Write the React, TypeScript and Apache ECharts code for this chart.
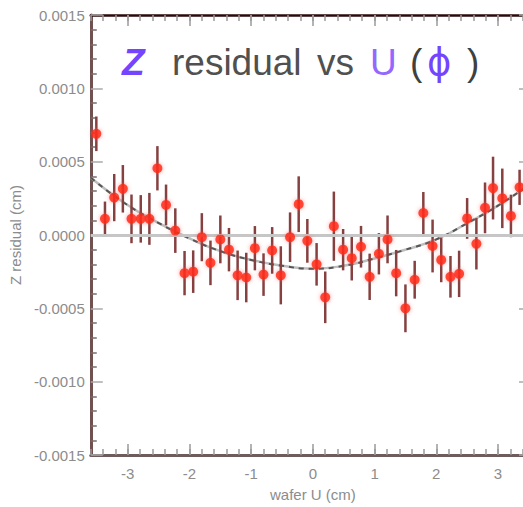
import React, { useEffect, useRef } from "react";
import * as echarts from "echarts";

// wafer U position (cm)
const U_POS = [
  -3.51, -3.37, -3.22, -3.08, -2.94, -2.79, -2.65, -2.52, -2.38, -2.23,
  -2.08, -1.94, -1.8, -1.66, -1.5, -1.36, -1.22, -1.08, -0.94, -0.8,
  -0.66, -0.52, -0.37, -0.23, -0.09, 0.06, 0.2, 0.34, 0.49, 0.63,
  0.78, 0.92, 1.07, 1.21, 1.35, 1.5, 1.65, 1.79, 1.94, 2.08,
  2.23, 2.37, 2.5, 2.65, 2.79, 2.92, 3.07, 3.21, 3.35,
];

// Z residual (cm)
const Z_RES = [
  0.00069, 0.00011, 0.000255, 0.000315, 0.00011, 0.00011, 0.00011, 0.000455, 0.000205, 0.00003,
  -0.00026, -0.00025, -0.000015, -0.00019, -0.00003, -0.0001, -0.000275, -0.00029, -0.00009, -0.00027,
  -0.000105, -0.000275, -0.000015, 0.00021, -0.00004, -0.0002, -0.000425, 0.00006, -0.0001, -0.000158,
  -0.00008, -0.000285, -0.000128, -0.00003, -0.00026, -0.0005, -0.000305, 0.00015, -0.000075, -0.00017,
  -0.000285, -0.000265, 0.000113, -0.00006, 0.000185, 0.00032, 0.00025, 0.00013, 0.000325,
];

// error bar half-length (cm)
const Z_ERR = [
  0.000118, 0.000118, 0.000161, 0.000162, 0.000166, 0.000162, 0.000177, 0.000151, 0.000139, 0.000152,
  0.000151, 0.000145, 0.000164, 0.000152, 0.000163, 0.000148, 0.000169, 0.000169, 0.000151, 0.000145,
  0.000159, 0.000198, 0.000169, 0.00019, 0.000149, 0.000145, 0.000176, 0.000236, 0.000141, 0.000152,
  0.000142, 0.000158, 0.000141, 0.000163, 0.000158, 0.000163, 0.000129, 0.000143, 0.00018, 0.000152,
  0.000142, 0.000158, 0.000139, 0.000175, 0.000173, 0.000214, 0.000203, 0.000145, 0.00012,
];

// fitted curve
const FIT_U = [-3.6, -3.06, -2.52, -1.98, -1.5, -1.0, -0.5, 0, 0.5, 1.0, 1.5, 2.0, 2.5, 3.0, 3.6];
const FIT_Z = [0.00039, 0.00022, 0.000086, -0.000027, -0.00011, -0.00017, -0.00021, -0.00023, -0.00021, -0.00016, -0.0001, -0.00003, 0.00008, 0.0002, 0.00037];

const X_TICKS = [-3, -2, -1, 0, 1, 2, 3];
const X_MIN = -3.6;
const X_MAX = 3.6;
const Y_MIN = -0.0015;
const Y_MAX = 0.0015;

const FONT = "Liberation Sans, Arial, sans-serif";

export default function App() {
  const ref = useRef<HTMLDivElement>(null);

  useEffect(() => {
    if (!ref.current) return;
    const chart = echarts.init(ref.current, null, { renderer: "svg" });

    const tickStyle = { color: "#9a9a9a", width: 1.5 };
    const labelStyle = { color: "#8c8c8c", fontSize: 15, fontFamily: FONT };

    const titleY = 62;
    const titleSize = 37;
    const tt = (
      text: string,
      x: number,
      fill: string,
      italic = false,
      bold = false,
      family = FONT
    ) => ({
      type: "text",
      x,
      y: titleY,
      silent: true,
      style: {
        text,
        fill,
        fontSize: titleSize,
        fontFamily: family,
        fontStyle: italic ? "italic" : "normal",
        fontWeight: bold ? "bold" : "normal",
        verticalAlign: "middle",
        align: "left",
      },
    });

    const option: any = {
      animation: false,
      backgroundColor: "#ffffff",
      grid: { left: 89, top: 15, width: 446, height: 444, containLabel: false },
      xAxis: [
        {
          type: "value",
          position: "bottom",
          min: X_MIN,
          max: X_MAX,
          axisLine: { show: true, onZero: false, lineStyle: { color: "#6e5c5c", width: 3 } },
          axisTick: { show: true, inside: true, length: 11, customValues: X_TICKS, lineStyle: tickStyle },
          axisLabel: { show: true, customValues: X_TICKS, margin: 11, ...labelStyle },
          splitLine: { show: false },
          name: "wafer U (cm)",
          nameLocation: "middle",
          nameGap: 32,
          nameTextStyle: { color: "#8c8c8c", fontSize: 15, fontFamily: FONT },
        },
        {
          type: "value",
          position: "bottom",
          min: X_MIN,
          max: X_MAX,
          interval: 0.2,
          axisLine: { show: false, onZero: false },
          axisTick: { show: true, inside: true, length: 6, lineStyle: tickStyle },
          axisLabel: { show: false },
          splitLine: { show: false },
        },
        {
          type: "value",
          position: "top",
          min: X_MIN,
          max: X_MAX,
          axisLine: { show: true, onZero: false, lineStyle: { color: "#2a0a0a", width: 2.5 } },
          axisTick: { show: true, inside: true, length: 11, customValues: X_TICKS, lineStyle: tickStyle },
          axisLabel: { show: false },
          splitLine: { show: false },
        },
        {
          type: "value",
          position: "top",
          min: X_MIN,
          max: X_MAX,
          interval: 0.2,
          axisLine: { show: false, onZero: false },
          axisTick: { show: true, inside: true, length: 6, lineStyle: tickStyle },
          axisLabel: { show: false },
          splitLine: { show: false },
        },
      ],
      yAxis: [
        {
          type: "value",
          position: "left",
          min: Y_MIN,
          max: Y_MAX,
          interval: 0.0005,
          axisLine: { show: true, onZero: false, lineStyle: { color: "#715050", width: 3 } },
          axisTick: { show: true, inside: true, length: 12, lineStyle: { color: "#aaaaaa", width: 1.5 } },
          minorTick: { show: true, splitNumber: 5, length: 6, lineStyle: { color: "#7a6a6a", width: 1.5 } },
          axisLabel: {
            show: true,
            margin: 6,
            ...labelStyle,
            formatter: (v: number) => (Math.abs(v) < 1e-12 ? "0.0000" : v.toFixed(4)),
          },
          splitLine: { show: false },
          minorSplitLine: { show: false },
          name: "Z residual (cm)",
          nameLocation: "middle",
          nameRotate: 90,
          nameGap: 57,
          nameTextStyle: { color: "#8c8c8c", fontSize: 15, fontFamily: FONT },
        },
        {
          type: "value",
          position: "right",
          min: Y_MIN,
          max: Y_MAX,
          interval: 0.0005,
          axisLine: { show: true, onZero: false, lineStyle: { color: "#715050", width: 3 } },
          axisTick: { show: true, inside: true, length: 16, lineStyle: { color: "#aaaaaa", width: 1.5 } },
          axisLabel: { show: false },
          splitLine: { show: false },
        },
      ],
      graphic: [
        tt("Z", 122, "#7444ff", true, true),
        tt("residual", 172, "#505050"),
        tt("vs", 317, "#505050"),
        tt("U", 370, "#9268ff"),
        tt("(", 410, "#404040"),
        tt("ϕ", 427, "#7444ff", false, false, "DejaVu Sans, sans-serif"),
        tt(")", 467, "#404040"),
      ],
      series: [
        {
          type: "line",
          xAxisIndex: 0,
          yAxisIndex: 0,
          data: [],
          silent: true,
          z: 1,
          markLine: {
            silent: true,
            symbol: "none",
            label: { show: false },
            lineStyle: { color: "#c6c6c6", width: 3, type: "solid" },
            data: [{ yAxis: 0 }],
          },
        },
        {
          type: "line",
          xAxisIndex: 0,
          yAxisIndex: 0,
          data: FIT_U.map((u, i) => [u, FIT_Z[i]]),
          smooth: true,
          symbol: "none",
          silent: true,
          z: 2,
          lineStyle: { color: "#bdbdbd", width: 2.5 },
        },
        {
          type: "line",
          xAxisIndex: 0,
          yAxisIndex: 0,
          data: FIT_U.map((u, i) => [u, FIT_Z[i]]),
          smooth: true,
          symbol: "none",
          silent: true,
          z: 3,
          lineStyle: { color: "#555555", width: 2, type: [5, 5] },
        },
        {
          type: "custom",
          xAxisIndex: 0,
          yAxisIndex: 0,
          z: 4,
          silent: true,
          data: U_POS.map((u, i) => [u, Z_RES[i] - Z_ERR[i], Z_RES[i] + Z_ERR[i]]),
          encode: { x: 0, y: [1, 2] },
          renderItem: (params: any, api: any) => {
            const x = api.value(0);
            const lo = api.coord([x, api.value(1)]);
            const hi = api.coord([x, api.value(2)]);
            return {
              type: "line",
              shape: { x1: lo[0], y1: lo[1], x2: hi[0], y2: hi[1] },
              style: { stroke: "#864040", lineWidth: 2.5 },
            };
          },
        },
        {
          type: "scatter",
          xAxisIndex: 0,
          yAxisIndex: 0,
          z: 5,
          silent: true,
          symbol: "circle",
          symbolSize: 10,
          data: U_POS.map((u, i) => [u, Z_RES[i]]),
          itemStyle: {
            color: "#ff2200",
            shadowColor: "rgba(255,90,90,0.7)",
            shadowBlur: 4,
          },
        },
      ],
    };

    chart.setOption(option);
    return () => chart.dispose();
  }, []);

  return (
    <div
      ref={ref}
      style={{ position: "fixed", left: 0, top: 0, width: 600, height: 507, background: "#fff" }}
    />
  );
}
